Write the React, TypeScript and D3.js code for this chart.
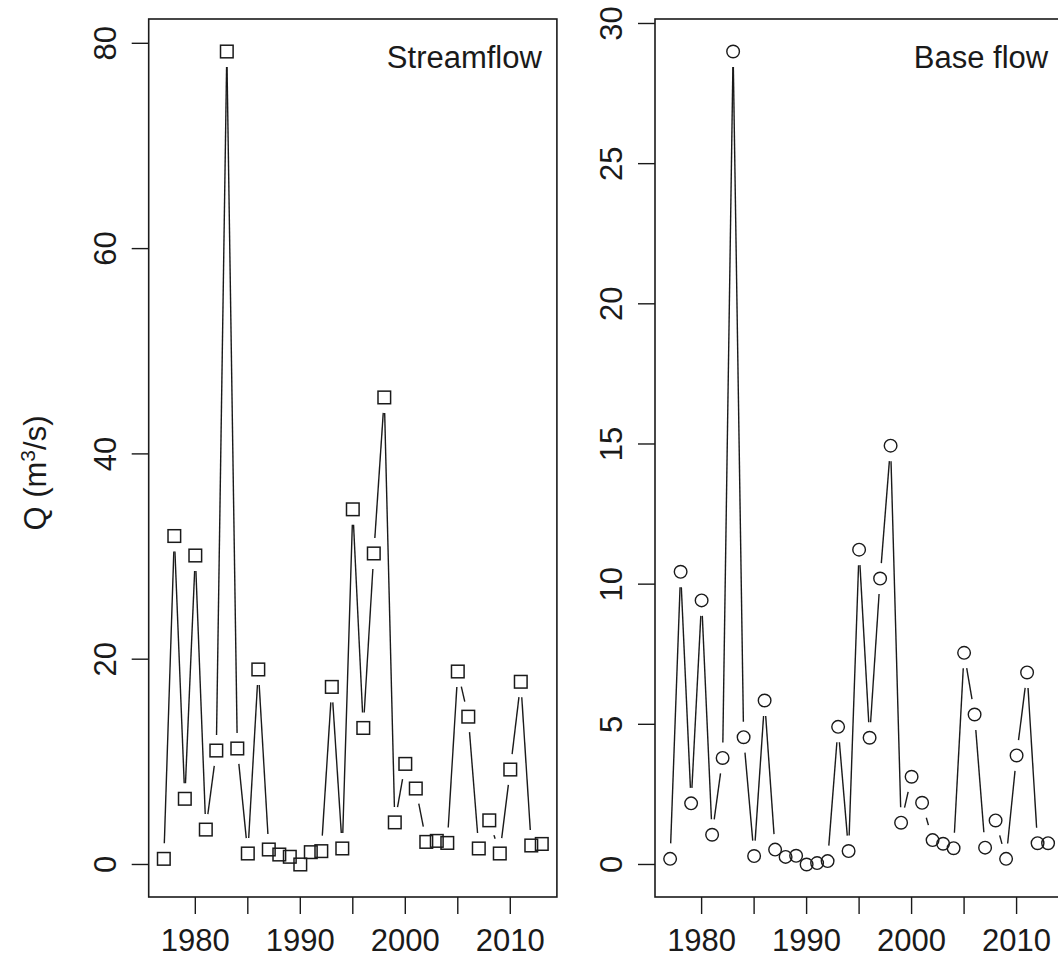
import React from "react";
import * as d3 from "d3";

const years = [1977, 1978, 1979, 1980, 1981, 1982, 1983, 1984, 1985, 1986, 1987, 1988, 1989, 1990, 1991, 1992, 1993, 1994, 1995, 1996, 1997, 1998, 1999, 2000, 2001, 2002, 2003, 2004, 2005, 2006, 2007, 2008, 2009, 2010, 2011, 2012, 2013];

const streamflow = [0.55, 32.0, 6.4, 30.1, 3.4, 11.1, 79.2, 11.3, 1.07, 19.0, 1.46, 0.97, 0.75, 0.0, 1.2, 1.3, 17.3, 1.56, 34.6, 13.3, 30.3, 45.5, 4.1, 9.8, 7.4, 2.2, 2.3, 2.1, 18.8, 14.4, 1.56, 4.3, 1.07, 9.25, 17.8, 1.85, 2.0];

const baseflow = [0.2, 10.44, 2.18, 9.42, 1.06, 3.8, 29.0, 4.54, 0.3, 5.85, 0.53, 0.27, 0.31, 0.0, 0.05, 0.12, 4.91, 0.48, 11.23, 4.52, 10.2, 14.94, 1.49, 3.13, 2.2, 0.87, 0.74, 0.58, 7.55, 5.35, 0.6, 1.57, 0.2, 3.89, 6.85, 0.76, 0.76];

const xTicks = [1980, 1985, 1990, 1995, 2000, 2005, 2010];
const xTickLabels = [1980, 1990, 2000, 2010];
const streamTicks = [0, 20, 40, 60, 80];
const baseTicks = [0, 5, 10, 15, 20, 25, 30];

const FONT = "'Liberation Sans', Arial, Helvetica, sans-serif";
const FS = 31;
const TOP = 19;
const BOTTOM = 897;
const PANEL_W = 408.2;
const GAP = 15.5;
const INK = "#1a1a1a";

type PanelProps = {
  left: number;
  values: number[];
  yTicks: number[];
  title: string;
  marker: "square" | "circle";
};

function Panel({ left, values, yTicks, title, marker }: PanelProps) {
  const xmin = d3.min(years)!;
  const xmax = d3.max(years)!;
  const xpad = (xmax - xmin) * 0.04;
  const x = d3.scaleLinear().domain([xmin - xpad, xmax + xpad]).range([left, left + PANEL_W]);
  const vmin = d3.min(values)!;
  const vmax = d3.max(values)!;
  const ypad = (vmax - vmin) * 0.04;
  const y = d3.scaleLinear().domain([vmin - ypad, vmax + ypad]).range([BOTTOM, TOP]);

  const pts = years.map((yr, i) => [x(yr), y(values[i])] as [number, number]);
  const segs: string[] = [];
  for (let i = 0; i < pts.length - 1; i++) {
    const [x1, y1] = pts[i];
    const [x2, y2] = pts[i + 1];
    const dx = x2 - x1;
    const dy = y2 - y1;
    const d = Math.hypot(dx, dy);
    if (d <= 2 * GAP) continue;
    const ux = dx / d;
    const uy = dy / d;
    const path = d3.path();
    path.moveTo(x1 + ux * GAP, y1 + uy * GAP);
    path.lineTo(x2 - ux * GAP, y2 - uy * GAP);
    segs.push(path.toString());
  }

  return (
    <g>
      {segs.map((p, i) => (
        <path key={"s" + i} d={p} stroke={INK} strokeWidth={1.4} fill="none" />
      ))}
      {pts.map(([px, py], i) =>
        marker === "square" ? (
          <rect key={"m" + i} x={px - 6.3} y={py - 6.3} width={12.6} height={12.6} fill="none" stroke={INK} strokeWidth={1.5} />
        ) : (
          <circle key={"m" + i} cx={px} cy={py} r={6.3} fill="none" stroke={INK} strokeWidth={1.4} />
        )
      )}
      <rect x={left} y={TOP} width={PANEL_W} height={BOTTOM - TOP} fill="none" stroke={INK} strokeWidth={1.6} />
      {yTicks.map((t) => (
        <g key={"yt" + t}>
          <line x1={left - 17} x2={left} y1={y(t)} y2={y(t)} stroke={INK} strokeWidth={1.4} />
          <text
            transform={`translate(${left - 33},${y(t)}) rotate(-90)`}
            textAnchor="middle"
            fontFamily={FONT}
            fontSize={FS}
            fill={INK}
          >
            {t}
          </text>
        </g>
      ))}
      {xTicks.map((t) => (
        <line key={"xt" + t} x1={x(t)} x2={x(t)} y1={BOTTOM} y2={BOTTOM + 17} stroke={INK} strokeWidth={1.4} />
      ))}
      {xTickLabels.map((t) => (
        <text key={"xl" + t} x={x(t)} y={951} textAnchor="middle" fontFamily={FONT} fontSize={FS} fill={INK}>
          {t}
        </text>
      ))}
      <text x={left + PANEL_W - 15} y={68} textAnchor="end" fontFamily={FONT} fontSize={FS} fill={INK}>
        {title}
      </text>
    </g>
  );
}

export default function App() {
  return (
    <svg
      width={1058}
      height={958}
      style={{ position: "absolute", left: 0, top: 0, background: "#fff" }}
    >
      <rect x={0} y={0} width={1058} height={958} fill="#fff" />
      <Panel left={148.7} values={streamflow} yTicks={streamTicks} title="Streamflow" marker="square" />
      <Panel left={655} values={baseflow} yTicks={baseTicks} title="Base flow" marker="circle" />
      <text
        transform={`translate(46,473) rotate(-90)`}
        textAnchor="middle"
        fontFamily={FONT}
        fontSize={FS}
        fill={INK}
      >
        Q (m
        <tspan dy={-11} fontSize={21}>3</tspan>
        <tspan dy={11}>/s)</tspan>
      </text>
    </svg>
  );
}
